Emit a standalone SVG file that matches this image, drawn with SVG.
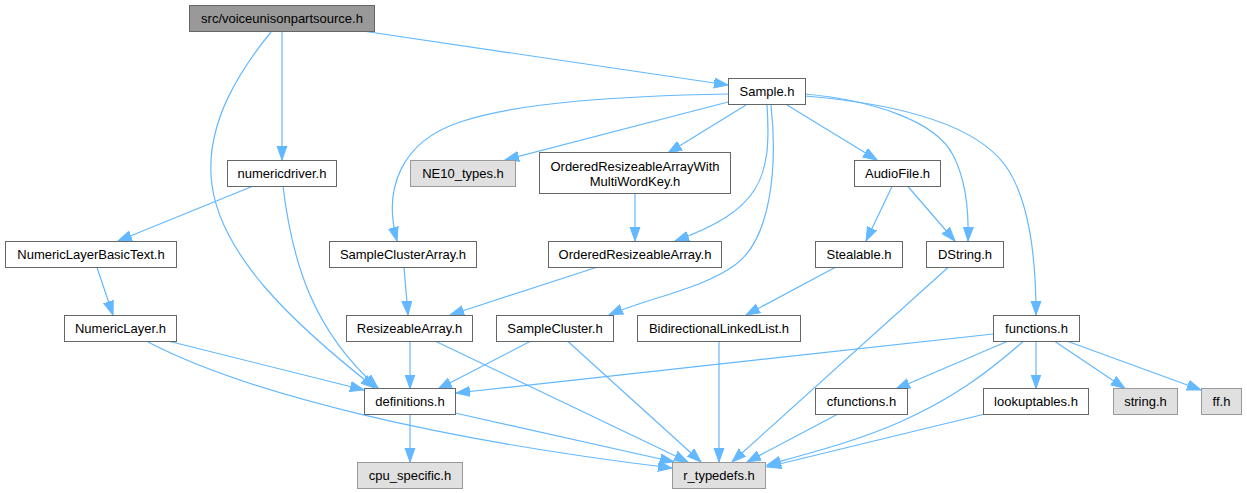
<svg xmlns="http://www.w3.org/2000/svg" width="1247" height="493" viewBox="0 0 1247 493">
<style>
.n rect{fill:#ffffff;stroke:#666666;stroke-width:1}
.root rect{fill:#999999;stroke:#666666}
.ext rect{fill:#e0e0e0;stroke:#999999}
text{font-family:"Liberation Sans",Arial,Helvetica,sans-serif;font-size:13px;fill:#000000;text-anchor:middle}
.e path{fill:none;stroke:#63b8ff;stroke-width:1.2;marker-end:url(#ah)}
</style>
<defs>
<marker id="ah" markerUnits="userSpaceOnUse" markerWidth="15" markerHeight="12" refX="14" refY="5.5" orient="auto">
<path d="M0,0.5 L14,5.5 L0,10.5 z" fill="#63b8ff" stroke="#63b8ff" stroke-width="1"/>
</marker>
</defs>
<rect width="1247" height="493" fill="#ffffff"/>
<g id="edges" class="e">
<path d="M282,31.5 L282,160"/>
<path d="M271,32 C240,70 208,120 211,175 C215,252 295,325 375,388"/>
<path d="M366,31.5 L728,85"/>
<path d="M252,186.5 L118,241"/>
<path d="M283,186.5 C292,260 312,330 378,388"/>
<path d="M97,267.5 L113,315"/>
<path d="M170,341.5 L364,390"/>
<path d="M148,342 C250,395 440,440 672,468"/>
<path d="M728,94 C620,96 520,102 460,122 C400,142 383,190 397,241"/>
<path d="M728,102 L505,160"/>
<path d="M746,105 L668,153"/>
<path d="M767,105 C772,180 760,210 675,241"/>
<path d="M771,105 C778,170 770,240 735,265 C700,290 650,297 609,315"/>
<path d="M787,105 L877,160"/>
<path d="M805,94 C870,100 935,120 953,155 C966,180 969,210 968,241"/>
<path d="M805,96 C900,104 975,125 1005,165 C1030,200 1036,260 1036,315"/>
<path d="M635,193.5 L635,241"/>
<path d="M596,267.5 L450,315"/>
<path d="M404,267.5 L408,315"/>
<path d="M410,341.5 L410,388.5"/>
<path d="M436,341.5 L688,462"/>
<path d="M530,341.5 L438,389"/>
<path d="M568,341.5 L701,462"/>
<path d="M892,186.5 L866,241"/>
<path d="M908,186.5 L955,241"/>
<path d="M835,267.5 L746,315"/>
<path d="M719,341.5 L719,462"/>
<path d="M948,267.5 L732,462"/>
<path d="M993,334 L456,393"/>
<path d="M1007,341.5 L896,389"/>
<path d="M1023,341.5 C985,375 950,400 900,422 C860,440 810,453 767,465"/>
<path d="M1036,341.5 L1036,388.5"/>
<path d="M1055,341.5 L1125,388.5"/>
<path d="M1068,341.5 L1201,390"/>
<path d="M410,414.5 L410,462"/>
<path d="M455,413 L674,462"/>
<path d="M837,414.5 L747,462"/>
<path d="M983,414.5 L767,467"/>
</g>
<g id="node_src" class="n root"><rect x="189.5" y="5.5" width="185" height="26"/><text x="282" y="23">src/voiceunisonpartsource.h</text></g>
<g id="node_numericdriver" class="n"><rect x="227.5" y="160.5" width="109" height="26"/><text x="282" y="178">numericdriver.h</text></g>
<g id="node_sample" class="n"><rect x="728.5" y="78.5" width="77" height="26"/><text x="767" y="96">Sample.h</text></g>
<g id="node_ne10" class="n ext"><rect x="410.5" y="160.5" width="105" height="26"/><text x="463" y="178">NE10_types.h</text></g>
<g id="node_oramwk" class="n"><rect x="539.5" y="152.5" width="191" height="41"/><text x="635" y="171">OrderedResizeableArrayWith</text><text x="635" y="186">MultiWordKey.h</text></g>
<g id="node_ora" class="n"><rect x="548.5" y="241.5" width="173" height="26"/><text x="635" y="259">OrderedResizeableArray.h</text></g>
<g id="node_sca" class="n"><rect x="329.5" y="241.5" width="147" height="26"/><text x="403" y="259">SampleClusterArray.h</text></g>
<g id="node_audiofile" class="n"><rect x="854.5" y="160.5" width="86" height="26"/><text x="897.5" y="178">AudioFile.h</text></g>
<g id="node_stealable" class="n"><rect x="815.5" y="241.5" width="87" height="26"/><text x="859" y="259">Stealable.h</text></g>
<g id="node_dstring" class="n"><rect x="926.5" y="241.5" width="77" height="26"/><text x="965" y="259">DString.h</text></g>
<g id="node_nlbt" class="n"><rect x="5.5" y="241.5" width="171" height="26"/><text x="91" y="259">NumericLayerBasicText.h</text></g>
<g id="node_nl" class="n"><rect x="64.5" y="315.5" width="112" height="26"/><text x="120.5" y="333">NumericLayer.h</text></g>
<g id="node_ra" class="n"><rect x="346.5" y="315.5" width="126" height="26"/><text x="409.5" y="333">ResizeableArray.h</text></g>
<g id="node_sc" class="n"><rect x="496.5" y="315.5" width="117" height="26"/><text x="555" y="333">SampleCluster.h</text></g>
<g id="node_bll" class="n"><rect x="637.5" y="315.5" width="163" height="26"/><text x="719" y="333">BidirectionalLinkedList.h</text></g>
<g id="node_functions" class="n"><rect x="993.5" y="315.5" width="86" height="26"/><text x="1036.5" y="333">functions.h</text></g>
<g id="node_definitions" class="n"><rect x="364.5" y="388.5" width="91" height="26"/><text x="410" y="406">definitions.h</text></g>
<g id="node_cfunctions" class="n"><rect x="815.5" y="388.5" width="92" height="26"/><text x="861.5" y="406">cfunctions.h</text></g>
<g id="node_lookuptables" class="n"><rect x="983.5" y="388.5" width="105" height="26"/><text x="1036" y="406">lookuptables.h</text></g>
<g id="node_string" class="n ext"><rect x="1113.5" y="388.5" width="64" height="26"/><text x="1145.5" y="406">string.h</text></g>
<g id="node_ff" class="n ext"><rect x="1201.5" y="388.5" width="40" height="26"/><text x="1221.5" y="406">ff.h</text></g>
<g id="node_cpu" class="n ext"><rect x="357.5" y="462.5" width="105" height="26"/><text x="410" y="480">cpu_specific.h</text></g>
<g id="node_rtypedefs" class="n ext"><rect x="672.5" y="462.5" width="93" height="26"/><text x="719" y="480">r_typedefs.h</text></g>
</svg>
